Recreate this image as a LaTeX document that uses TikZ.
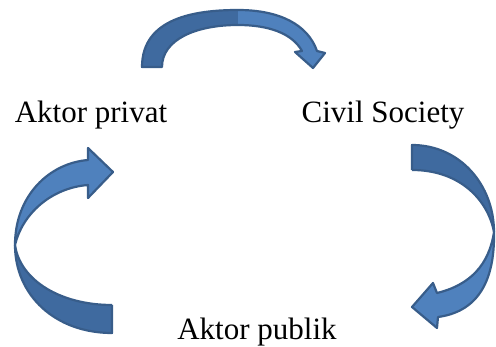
\documentclass[tikz,border=0pt]{standalone}
\usepackage{fontspec}
\setmainfont{Liberation Serif}
\usetikzlibrary{positioning}
\definecolor{ribbonfront}{HTML}{4F81BD}
\definecolor{ribbonback}{HTML}{3F6A9F}
\definecolor{ribbonline}{HTML}{385D8A}

\begin{document}
\begin{tikzpicture}[x=1pt,y=-1pt]

  % Styles
  \tikzstyle{actor}=[anchor=base,inner sep=0pt,font=\fontsize{31}{36}\selectfont]
  \tikzstyle{back}=[fill=ribbonback]
  \tikzstyle{front}=[fill=ribbonfront]
  \tikzstyle{rim}=[draw=ribbonline,line width=2.2pt,line join=round]

  \useasboundingbox (0,0) rectangle (496,347);

  % Actors
  \node[actor] (privat) at (91,123) {Aktor privat};
  \node[actor] (civil) at (383,123) {Civil Society};
  \node[actor] (publik) at (257,340) {Aktor publik};

  % Top arrow: privat -> civil
  \path[back] (142,67) .. controls (142,18) and (195,10) .. (238,10)
    -- (238,25) .. controls (195,25) and (162,40) .. (162,67) -- cycle;
  \path[front] (238,10) .. controls (280,10) and (308,25) .. (317,51)
    -- (325,53) -- (313,68) -- (295,52) -- (302,51)
    .. controls (292,33) and (268,25) .. (238,25) -- cycle;
  \draw[rim] (142,67) .. controls (142,18) and (195,10) .. (238,10)
    .. controls (280,10) and (308,25) .. (317,51)
    -- (325,53) -- (313,68) -- (295,52) -- (302,51)
    .. controls (292,33) and (268,25) .. (238,25)
    .. controls (195,25) and (162,40) .. (162,67) -- cycle;

  % Right arrow: civil -> publik
  \path[back] (412,170) -- (412,145) .. controls (460,145) and (494,185) .. (494,232)
    .. controls (488,200) and (460,170) .. (412,170) -- cycle;
  \path[front] (494,232) .. controls (495,285) and (475,312) .. (438,317)
    -- (437,328) -- (412,307) -- (433,283) -- (437,293)
    .. controls (470,285) and (489,265) .. (494,232) -- cycle;
  \draw[rim] (412,170) -- (412,145) .. controls (460,145) and (494,185) .. (494,232)
    .. controls (495,285) and (475,312) .. (438,317)
    -- (437,328) -- (412,307) -- (433,283) -- (437,293)
    .. controls (470,285) and (489,265) .. (494,232);
  \draw[rim] (494,232) .. controls (488,200) and (460,170) .. (412,170);

  % Left arrow: publik -> privat
  \path[back] (112,305) -- (112,333) .. controls (55,333) and (15,295) .. (15,245)
    .. controls (20,280) and (60,305) .. (112,305) -- cycle;
  \path[front] (15,245) .. controls (15,195) and (50,163) .. (88,160)
    -- (88,148) -- (113,172) -- (88,198) -- (88,185)
    .. controls (50,188) and (22,215) .. (15,245) -- cycle;
  \draw[rim] (112,305) -- (112,333) .. controls (55,333) and (15,295) .. (15,245)
    .. controls (15,195) and (50,163) .. (88,160)
    -- (88,148) -- (113,172) -- (88,198) -- (88,185)
    .. controls (50,188) and (22,215) .. (15,245);
  \draw[rim] (15,245) .. controls (20,280) and (60,305) .. (112,305);

\end{tikzpicture}
\end{document}
